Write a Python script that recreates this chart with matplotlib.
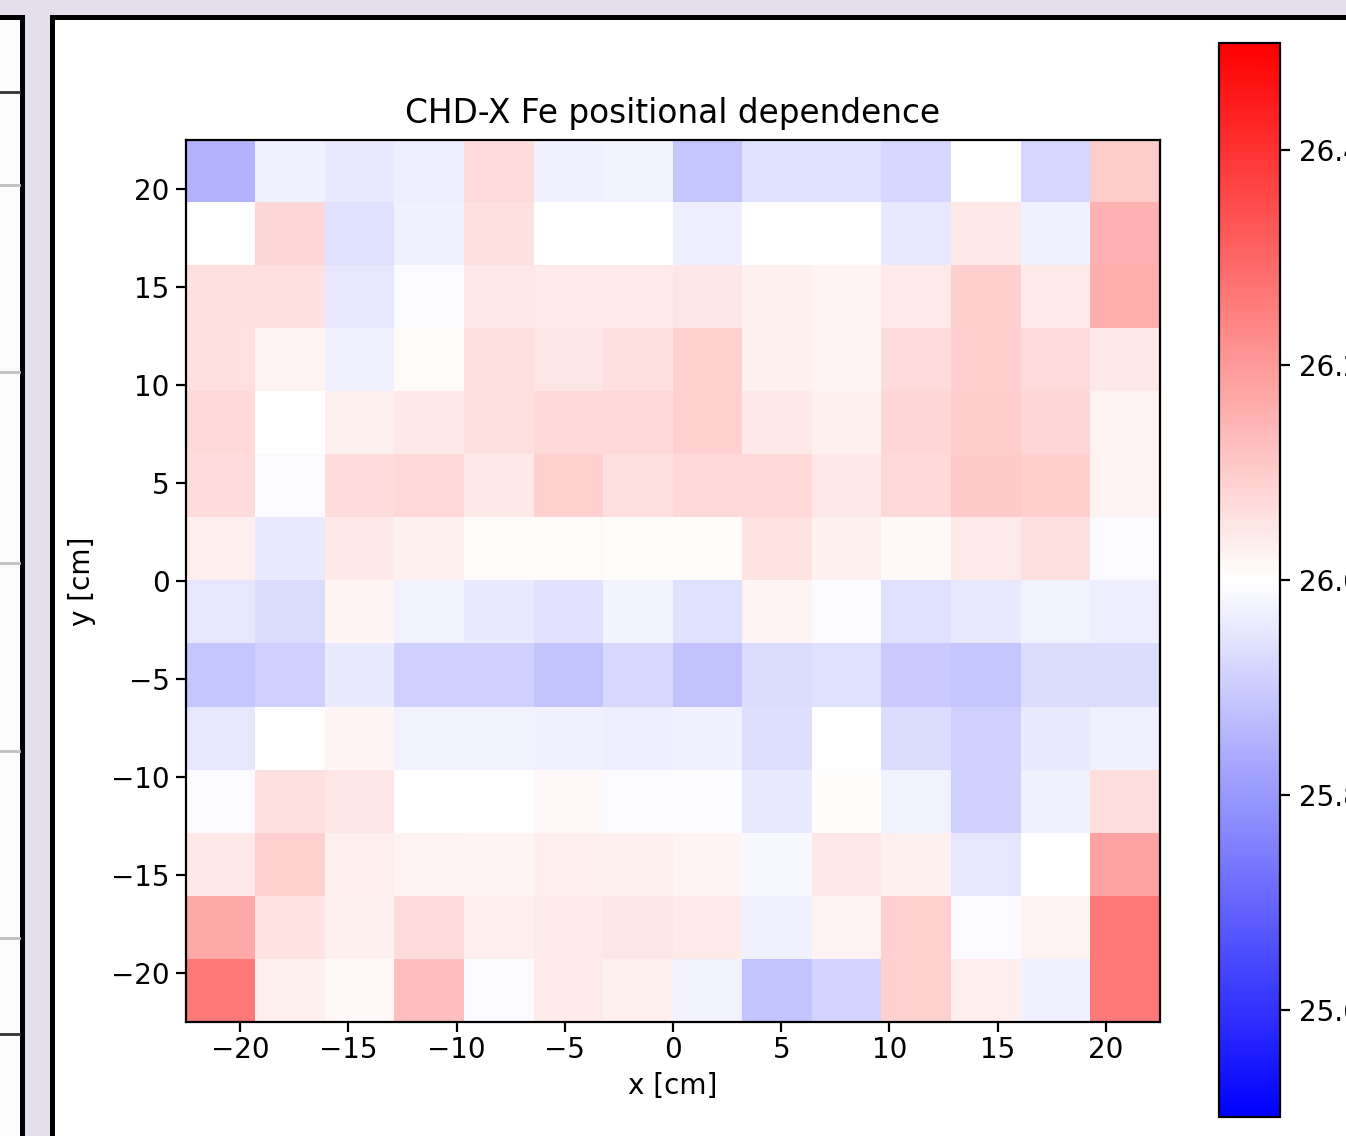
import numpy as np
import matplotlib
matplotlib.use("Agg")
import matplotlib.pyplot as plt
from matplotlib.patches import Rectangle
from matplotlib.lines import Line2D

# cell values, top row (y = +20) first, left column (x = -20) first
rows = [
    [25.85, 25.97, 25.955, 25.965, 26.07, 25.97, 25.98, 25.89, 25.94, 25.94, 25.92, 26.00, 25.92, 26.10],
    [26.00, 26.08, 25.94, 25.97, 26.06, 26.00, 26.00, 25.965, 26.00, 26.00, 25.955, 26.045, 25.97, 26.155],
    [26.06, 26.06, 25.95, 25.99, 26.045, 26.04, 26.04, 26.05, 26.03, 26.02, 26.04, 26.095, 26.04, 26.16],
    [26.06, 26.025, 25.97, 26.01, 26.06, 26.05, 26.06, 26.09, 26.03, 26.02, 26.07, 26.095, 26.07, 26.045],
    [26.075, 26.00, 26.03, 26.045, 26.06, 26.075, 26.075, 26.09, 26.045, 26.03, 26.08, 26.10, 26.08, 26.025],
    [26.07, 25.99, 26.07, 26.075, 26.045, 26.09, 26.06, 26.075, 26.075, 26.045, 26.075, 26.105, 26.095, 26.025],
    [26.035, 25.96, 26.045, 26.03, 26.01, 26.01, 26.005, 26.005, 26.055, 26.03, 26.015, 26.04, 26.06, 25.99],
    [25.95, 25.93, 26.02, 25.975, 25.96, 25.945, 25.98, 25.94, 26.02, 25.99, 25.94, 25.955, 25.975, 25.965],
    [25.89, 25.91, 25.96, 25.91, 25.91, 25.885, 25.925, 25.88, 25.93, 25.94, 25.895, 25.89, 25.93, 25.93],
    [25.95, 26.00, 26.02, 25.975, 25.975, 25.97, 25.965, 25.97, 25.935, 26.00, 25.93, 25.91, 25.96, 25.97],
    [25.99, 26.06, 26.05, 26.00, 26.00, 26.015, 25.99, 25.995, 25.96, 26.005, 25.975, 25.91, 25.97, 26.065],
    [26.045, 26.09, 26.035, 26.025, 26.02, 26.035, 26.03, 26.02, 25.985, 26.045, 26.03, 25.95, 26.00, 26.18],
    [26.17, 26.055, 26.03, 26.07, 26.035, 26.04, 26.05, 26.04, 25.97, 26.025, 26.09, 25.99, 26.025, 26.265],
    [26.265, 26.03, 26.015, 26.125, 25.99, 26.04, 26.03, 25.975, 25.885, 25.915, 26.09, 26.035, 25.97, 26.265],
]
extent = [-22.5, 22.5, -22.5, 22.5]
cbar_ticks = [25.6, 25.8, 26.0, 26.2, 26.4]

W, H = 1346, 1136
fig = plt.figure(figsize=(W / 200, H / 200), dpi=200)
fig.patch.set_facecolor("#e4dfec")


def fx(px):
    return px / W


def fy(py):
    return 1 - py / H


# screenshot frame: left panel and right panel (behind the axes)
lw = 5 * 72 / 200
fig.add_artist(Rectangle((fx(-20), fy(1200)), fx(41.5), fy(16.5) - fy(1200),
                         transform=fig.transFigure, facecolor="#fcfcfc",
                         edgecolor="black", lw=lw, zorder=-10))
for py, col in [(92, "#333333"), (185, "#c0c0c0"), (372, "#c0c0c0"), (563, "#c0c0c0"),
                (751, "#c0c0c0"), (938, "#c0c0c0"), (1034, "#333333")]:
    fig.add_artist(Line2D([fx(0), fx(19)], [fy(py), fy(py)], transform=fig.transFigure,
                          color=col, lw=1.0, zorder=-9))
fig.add_artist(Rectangle((fx(51.5), fy(1200)), fx(1400), fy(16.5) - fy(1200),
                         transform=fig.transFigure, facecolor="white",
                         edgecolor="black", lw=lw, zorder=-10))

ax = fig.add_axes([fx(186), fy(1022), fx(974), 882 / H])
cax = fig.add_axes([fx(1219), fy(1117), fx(61), 1074 / H])

im = ax.imshow(np.array(rows), cmap="bwr", vmin=25.5, vmax=26.5, extent=extent,
               aspect="auto", interpolation="nearest")
ax.set_title("CHD-X Fe positional dependence", fontsize=11.8)
ax.tick_params(axis="x", pad=1.7)
ax.tick_params(axis="y", pad=2.4)
ax.set_xlabel("x [cm]", labelpad=2.9)
ax.set_ylabel("y [cm]", labelpad=5.4)

cb = fig.colorbar(im, cax=cax)
cb.set_ticks(cbar_ticks)

fig.savefig("out.png", dpi=200, facecolor=fig.get_facecolor())
